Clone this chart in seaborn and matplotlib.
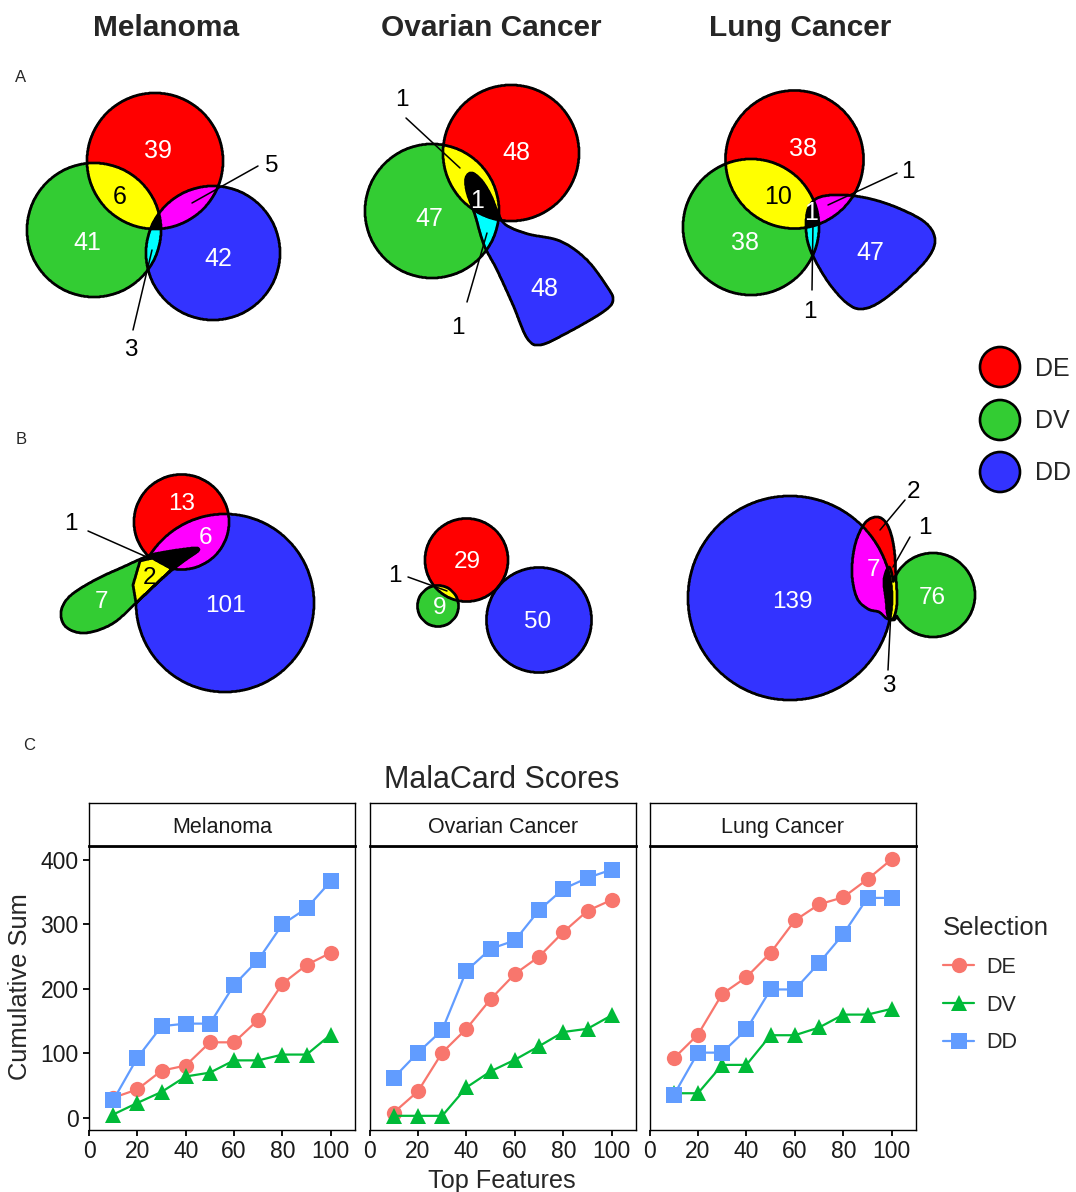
import numpy as np
import pandas as pd
import matplotlib
matplotlib.use("Agg")
import matplotlib.pyplot as plt
import seaborn as sns
from matplotlib.path import Path
from matplotlib.lines import Line2D
from matplotlib.patches import Circle

# ---------------- data ----------------
cancers = ["Melanoma", "Ovarian Cancer", "Lung Cancer"]
selections = ["DE", "DV", "DD"]
region_keys = ["DE", "DV", "DD", "DE&DV", "DE&DD", "DV&DD", "DE&DV&DD"]

# Euler diagram region counts (order of region_keys)
counts_A_melanoma = [39, 41, 42, 6, 5, 3, 0]
counts_A_ovarian = [48, 47, 48, 1, 0, 1, 1]
counts_A_lung = [38, 38, 47, 10, 1, 1, 1]
counts_B_melanoma = [13, 7, 101, 2, 6, 0, 1]
counts_B_ovarian = [29, 9, 50, 1, 0, 0, 0]
counts_B_lung = [2, 76, 139, 3, 7, 0, 1]

# MalaCard cumulative sums
top_features = [10, 20, 30, 40, 50, 60, 70, 80, 90, 100]
mel_DE = [31, 44, 73, 81, 117, 117, 152, 208, 237, 256]
mel_DV = [5, 23, 40, 64, 70, 89, 89, 98, 98, 129]
mel_DD = [27, 93, 142, 146, 146, 206, 245, 300, 325, 367]
ova_DE = [8, 41, 101, 138, 184, 223, 250, 288, 321, 338]
ova_DV = [3, 3, 3, 47, 72, 90, 111, 133, 138, 159]
ova_DD = [62, 101, 136, 228, 262, 275, 322, 355, 372, 385]
lung_DE = [92, 129, 192, 218, 256, 306, 331, 342, 370, 401]
lung_DV = [38, 38, 82, 82, 128, 128, 140, 160, 160, 169]
lung_DD = [35, 101, 101, 137, 199, 199, 240, 285, 341, 341]

# ---------------- style ----------------
sns.set_style("white")
plt.rcParams["font.family"] = ["Liberation Sans", "DejaVu Sans"]

W, H = 1076, 1192
fig = plt.figure(figsize=(W / 100, H / 100), dpi=100)

# full-figure pixel axes for the Euler diagrams
vax = fig.add_axes([0, 0, 1, 1])
vax.set_xlim(0, W)
vax.set_ylim(H, 0)
vax.axis("off")

venn_colors = {
    (1, 0, 0): "#FF0000", (0, 1, 0): "#33CC33", (0, 0, 1): "#3333FF",
    (1, 1, 0): "#FFFF00", (1, 0, 1): "#FF00FF", (0, 1, 1): "#00FFFF",
    (1, 1, 1): "#000000",
}
region_combo = {"DE": (1, 0, 0), "DV": (0, 1, 0), "DD": (0, 0, 1), "DE&DV": (1, 1, 0),
                "DE&DD": (1, 0, 1), "DV&DD": (0, 1, 1), "DE&DV&DD": (1, 1, 1)}


def catmull(pts, n=24):
    P = np.asarray(pts, float)
    N = len(P)
    t = np.linspace(0, 1, n, endpoint=False)[:, None]
    out = []
    for i in range(N):
        p0, p1, p2, p3 = P[i - 1], P[i], P[(i + 1) % N], P[(i + 2) % N]
        seg = 0.5 * (2 * p1 + (-p0 + p2) * t + (2 * p0 - 5 * p1 + 4 * p2 - p3) * t ** 2
                     + (-p0 + 3 * p1 - 3 * p2 + p3) * t ** 3)
        out.append(seg)
    return np.vstack(out)


def shape_mask(shape, X, Y):
    kind = shape[0]
    if kind == "circle":
        _, cx, cy, r = shape
        return (X - cx) ** 2 + (Y - cy) ** 2 <= r ** 2
    pts = catmull(shape[1]) if kind == "blob" else np.asarray(shape[1], float)
    path = Path(pts, closed=False)
    return path.contains_points(np.c_[X.ravel(), Y.ravel()]).reshape(X.shape)


def set_mask(spec, X, Y):
    m = np.zeros(X.shape, bool)
    for op, shp in spec:
        sm = shape_mask(shp, X, Y)
        if op == "+":
            m |= sm
        else:
            m &= ~sm
    return m


# ---------- layouts (geometry only) ----------
notch = ("poly", [(140, 561), (152, 558), (172, 569), (136, 603), (133, 585)])
layouts = [
    dict(counts=counts_A_melanoma, bbox=(15, 300, 85, 330), fs=18,
         sets={"DE": [("+", ("circle", 155, 161, 68))],
               "DV": [("+", ("circle", 94, 230, 67))],
               "DD": [("+", ("circle", 213, 253, 67))]},
         labels={"DE": ("in", 158, 149), "DE&DV": ("in", 120, 196), "DV": ("in", 87, 241),
                 "DD": ("in", 218, 257),
                 "DE&DD": ("call", 272, 165, 258, 166, 192, 203),
                 "DV&DD": ("call", 131, 348, 133, 330, 152, 250)}),
    dict(counts=counts_A_ovarian, bbox=(355, 630, 80, 355), fs=18,
         sets={"DE": [("+", ("circle", 511, 153, 68))],
               "DV": [("+", ("circle", 432, 211, 67))],
               "DD": [("+", ("blob", [(466, 178), (472, 173), (482, 181), (491, 196), (498, 213),
                                       (506, 225), (528, 234), (560, 241), (586, 259), (606, 285),
                                       (613, 300), (603, 312), (565, 334), (540, 345), (527, 338),
                                       (513, 305), (497, 270), (484, 245), (475, 215), (467, 192)]))]},
         labels={"DE": ("in", 516, 152), "DV": ("in", 429, 218), "DD": ("in", 544, 287),
                 "DE&DV&DD": ("in", 477, 199),
                 "DE&DV": ("call", 402, 99, 406, 118, 460, 168),
                 "DV&DD": ("call", 458, 327, 467, 302, 487, 233)}),
    dict(counts=counts_A_lung, bbox=(670, 945, 80, 320), fs=18,
         sets={"DE": [("+", ("circle", 794.5, 159.5, 69))],
               "DV": [("+", ("circle", 751, 227, 68))],
               "DD": [("+", ("blob", [(806, 224), (809, 207), (820, 197), (845, 195), (875, 200),
                                       (905, 211), (927, 224), (935, 240), (928, 258), (905, 282),
                                       (880, 302), (862, 309), (848, 304), (831, 286), (816, 262),
                                       (808, 243)]))]},
         labels={"DE": ("in", 803, 148), "DE&DV": ("in", 778, 195), "DV": ("in", 745, 241),
                 "DD": ("in", 870, 252), "DE&DV&DD": ("in", 811, 212),
                 "DE&DD": ("call", 908, 170, 897, 173, 828, 205),
                 "DV&DD": ("call", 810, 311, 812, 290, 813, 223)}),
    dict(counts=counts_B_melanoma, bbox=(50, 325, 465, 700), fs=17.5,
         sets={"DE": [("+", ("circle", 181.5, 522, 47.5)), ("+", notch)],
               "DV": [("+", ("blob", [(197, 548), (185, 549), (165, 552), (148, 556), (123, 567),
                                       (95, 580), (70, 596), (61, 612), (66, 627), (85, 633),
                                       (112, 624), (135, 604), (155, 585), (172, 570), (188, 558),
                                       (198, 551)]))],
               "DD": [("+", ("circle", 225, 603, 89)), ("-", notch)]},
         labels={"DE": ("in", 182, 503), "DE&DD": ("in", 205, 536), "DE&DV": ("in", 149, 577),
                 "DV": ("in", 101, 600), "DD": ("in", 225, 604),
                 "DE&DV&DD": ("call", 71, 522, 88, 531, 149, 558)}),
    dict(counts=counts_B_ovarian, bbox=(410, 600, 510, 680), fs=17.5,
         sets={"DE": [("+", ("circle", 466.5, 560, 41.5))],
               "DV": [("+", ("circle", 438, 606, 20.5))],
               "DD": [("+", ("circle", 539, 620, 52.5))]},
         labels={"DE": ("in", 467, 561), "DV": ("in", 440, 607), "DD": ("in", 538, 621),
                 "DE&DV": ("call", 395, 574, 408, 577, 447, 591)}),
    dict(counts=counts_B_lung, bbox=(680, 985, 490, 708), fs=17.5,
         sets={"DE": [("+", ("blob", [(878, 517), (888, 526), (894, 548), (896, 578), (897, 603),
                                       (893, 619), (886, 618), (879, 612), (868, 609), (857, 598),
                                       (852, 574), (855, 545), (865, 523)]))],
               "DV": [("+", ("circle", 933, 595, 42)),
                      ("+", ("blob", [(889, 567), (893, 580), (894, 598), (897, 612), (894, 620),
                                      (888, 616), (886, 600), (884, 580)]))],
               "DD": [("+", ("circle", 790, 598, 102))]},
         labels={"DD": ("in", 792, 600), "DV": ("in", 932, 596), "DE&DD": ("in", 873, 568),
                 "DE": ("call", 913, 491, 905, 500, 880, 530),
                 "DE&DV&DD": ("call", 925, 527, 910, 537, 893, 567),
                 "DE&DV": ("call", 889, 684, 888, 670, 891, 610)}),
]

step = 0.5
dy = 1.5  # small baseline correction for digit labels
for lay in layouts:
    x0, x1, y0, y1 = lay["bbox"]
    xs = np.arange(x0, x1, step) + step / 2
    ys = np.arange(y0, y1, step) + step / 2
    X, Y = np.meshgrid(xs, ys)
    masks = [set_mask(lay["sets"][s], X, Y) for s in selections]
    img = np.zeros(X.shape + (4,))
    for combo, col in venn_colors.items():
        sel = np.ones(X.shape, bool)
        for m, c in zip(masks, combo):
            sel &= m if c else ~m
        img[sel] = matplotlib.colors.to_rgba(col)
    vax.imshow(img, extent=(x0, x1, y1, y0), origin="upper", interpolation="antialiased", zorder=1)
    for m in masks:
        vax.contour(X, Y, m.astype(float), levels=[0.5], colors="black", linewidths=1.9, zorder=2)
    fs = lay["fs"]
    for key, spec in lay["labels"].items():
        n = lay["counts"][region_keys.index(key)]
        if spec[0] == "in":
            col = "black" if key == "DE&DV" else "white"
            vax.text(spec[1], spec[2] + dy, str(n), color=col, fontsize=fs, ha="center",
                     va="center", zorder=5)
        else:
            _, tx, ty, lx1, ly1, lx2, ly2 = spec
            vax.plot([lx1, lx2], [ly1, ly2], color="black", lw=1.1, zorder=4)
            vax.text(tx, ty + dy, str(n), color="black", fontsize=17.5, ha="center",
                     va="center", zorder=5)

# titles and panel letters
for name, x in zip(cancers, [166, 491, 800]):
    vax.text(x, 28, name, fontsize=21.5, fontweight="bold", ha="center", va="center")
for lab, x, y in [("A", 21, 78), ("B", 21, 440), ("C", 29, 745)]:
    vax.text(x, y, lab, fontsize=12, ha="center", va="center")

# Euler legend
for s, y in zip(selections, [367, 420, 472]):
    col = venn_colors[region_combo[s]]
    vax.add_patch(Circle((1000, y), 20, facecolor=col, edgecolor="black", lw=1.9, zorder=3))
    vax.text(1035, y + 1.5, s, fontsize=18, ha="left", va="center")

# ---------------- line charts ----------------
rows = []
series = {"Melanoma": (mel_DE, mel_DV, mel_DD),
          "Ovarian Cancer": (ova_DE, ova_DV, ova_DD),
          "Lung Cancer": (lung_DE, lung_DV, lung_DD)}
for c in cancers:
    for s, vals in zip(selections, series[c]):
        for tf, v in zip(top_features, vals):
            rows.append({"Cancer": c, "Selection": s, "Top Features": tf, "Cumulative Sum": v})
df = pd.DataFrame(rows)

palette = {"DE": "#F8766D", "DV": "#00BA38", "DD": "#619CFF"}
markers = {"DE": "o", "DV": "^", "DD": "s"}


def fr(px0, py0, px1, py1):
    return [px0 / W, 1 - py1 / H, (px1 - px0) / W, (py1 - py0) / H]


panel_x = [(89, 355), (369.5, 636), (649.5, 916)]
for i, (c, (px0, px1)) in enumerate(zip(cancers, panel_x)):
    ax = fig.add_axes(fr(px0, 846, px1, 1130))
    sub = df[df["Cancer"] == c]
    sns.lineplot(data=sub, x="Top Features", y="Cumulative Sum", hue="Selection", style="Selection",
                 hue_order=selections, style_order=selections, palette=palette, markers=markers,
                 dashes=False, markersize=11, markeredgewidth=0, linewidth=1.6, legend=False,
                 estimator=None, sort=False, ax=ax)
    ax.set_xlim(0, 110)
    ax.set_ylim(-19, 421.5)
    ax.set_xticks([0, 20, 40, 60, 80, 100])
    ax.set_yticks([0, 100, 200, 300, 400])
    ax.set_xlabel("")
    ax.set_ylabel("")
    for sp in ax.spines.values():
        sp.set_visible(True)
        sp.set_color("black")
        sp.set_linewidth(1.0)
    ax.tick_params(axis="both", direction="out", length=4.5, width=1.3, color="black",
                   labelsize=16.5, labelcolor="#1a1a1a", pad=3, bottom=True, left=(i == 0))
    if i > 0:
        ax.tick_params(labelleft=False)
    # strip
    sax = fig.add_axes(fr(px0, 803, px1, 846))
    sax.set_xticks([])
    sax.set_yticks([])
    for sp in sax.spines.values():
        sp.set_visible(True)
        sp.set_color("black")
        sp.set_linewidth(1.0)
    sax.spines["bottom"].set_linewidth(2.0)
    sax.text(0.5, 0.44, c, transform=sax.transAxes, ha="center", va="center", fontsize=15.5,
             color="#1a1a1a")

fig.text(502 / W, 1 - 780 / H, "MalaCard Scores", fontsize=22, ha="center", va="center")
fig.text(502 / W, 1 - 1181 / H, "Top Features", fontsize=18.2, ha="center", va="center")
fig.text(20 / W, 1 - 987 / H, "Cumulative Sum", fontsize=18.4, ha="center", va="center",
         rotation=90)

handles = [Line2D([0], [0], color=palette[s], marker=markers[s], markersize=11, markeredgewidth=0,
                  lw=1.6) for s in selections]
fig.legend(handles, selections, title="Selection", loc="upper left",
           bbox_to_anchor=(943 / W, 1 - 916 / H), frameon=False, fontsize=15.5, title_fontsize=18.5,
           handlelength=1.45, handletextpad=0.55, labelspacing=0.78, borderpad=0, borderaxespad=0,
           alignment="left")

fig.savefig("out.png", dpi=100)
